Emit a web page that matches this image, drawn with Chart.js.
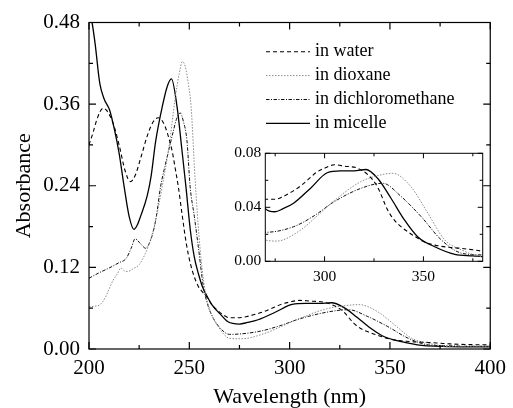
<!DOCTYPE html>
<html>
<head>
<meta charset="utf-8">
<script src="https://cdn.jsdelivr.net/npm/chart.js@4/dist/chart.umd.min.js"></script>
<style>
  html, body { margin: 0; padding: 0; background: #fff; }
  #wrap { position: relative; width: 513px; height: 408px; }
  #main { position: absolute; left: 0; top: 0; }
  #inset { position: absolute; left: 215px; top: 140px; }
</style>
</head>
<body>
<div id="wrap">
  <canvas id="main" width="513" height="408"></canvas>
  <canvas id="inset" width="280" height="150"></canvas>
</div>
<script>
// ---------- data ----------
const seriesLabels = ['in water', 'in dioxane', 'in dichloromethane', 'in micelle'];

const waterX = [200, 202, 204, 207, 209, 212, 215, 218, 220.6, 223, 226, 229, 232, 234.5, 237, 239, 241.5, 243, 244.5, 246.3, 248.5, 250.5, 252.5, 254.5, 256.5, 258.6, 261, 264, 267, 270, 275, 279, 284, 288, 292, 296, 300, 305, 310, 316.6, 322, 326.8, 331.9, 335, 338.7, 343, 347.2, 351, 355.8, 362, 369.3, 375, 380, 390, 400];
const waterY = [0.300, 0.318, 0.338, 0.354, 0.350, 0.332, 0.300, 0.262, 0.246, 0.255, 0.283, 0.313, 0.334, 0.340, 0.333, 0.318, 0.290, 0.265, 0.239, 0.200, 0.155, 0.126, 0.106, 0.092, 0.084, 0.077, 0.066, 0.057, 0.050, 0.046, 0.046, 0.048, 0.052, 0.056, 0.061, 0.066, 0.069, 0.0715, 0.0705, 0.069, 0.064, 0.055, 0.038, 0.031, 0.0256, 0.021, 0.017, 0.014, 0.012, 0.0105, 0.0096, 0.0085, 0.0075, 0.0065, 0.006];

const dioxaneX = [200, 203, 205.4, 208, 210, 212, 214, 216, 217.5, 219.3, 222, 225, 228, 231.6, 234, 236.5, 240, 243, 245, 246.5, 248, 249.5, 250.9, 252.9, 255.3, 257.8, 260.3, 264.4, 270, 275.8, 287.7, 295, 304.7, 318.3, 327, 334.5, 343.8, 352.3, 360.8, 369.3, 380, 390, 400];
const dioxaneY = [0.062, 0.063, 0.065, 0.075, 0.088, 0.101, 0.110, 0.119, 0.115, 0.114, 0.118, 0.124, 0.140, 0.170, 0.200, 0.239, 0.300, 0.370, 0.405, 0.4225, 0.415, 0.390, 0.356, 0.249, 0.150, 0.087, 0.057, 0.033, 0.0158, 0.015, 0.023, 0.032, 0.0447, 0.059, 0.0635, 0.0652, 0.055, 0.0355, 0.0158, 0.0084, 0.0034, 0.003, 0.003];

const dcmX = [200, 205, 210, 215, 218.5, 221, 223, 225, 226.5, 228.3, 230, 231.5, 233.3, 235.7, 237.8, 239.8, 242, 243.5, 245.5, 247, 248.8, 250.4, 252.5, 254.5, 257, 259.5, 262, 265, 270, 284.3, 295, 304.7, 318.3, 329.4, 338.7, 348.9, 359.1, 369.3, 380, 390, 400];
const dcmY = [0.104, 0.112, 0.119, 0.127, 0.133, 0.148, 0.162, 0.157, 0.152, 0.148, 0.155, 0.167, 0.190, 0.239, 0.268, 0.293, 0.320, 0.337, 0.347, 0.335, 0.307, 0.239, 0.195, 0.150, 0.092, 0.062, 0.045, 0.032, 0.0215, 0.0256, 0.034, 0.044, 0.054, 0.0578, 0.048, 0.033, 0.0158, 0.006, 0.0047, 0.004, 0.004];

const micelleX = [200, 201.5, 203, 205.4, 207.5, 210.3, 212.5, 215, 217.5, 220, 222.4, 224, 225.7, 229, 231, 233.2, 236.5, 239, 241.1, 243.9, 246.3, 248.3, 250.5, 252.5, 254.5, 256.5, 258.6, 261.5, 265.2, 269.3, 274.9, 279, 284.3, 292.8, 301.3, 308.1, 314.9, 320.9, 326.8, 333.6, 340.4, 347.2, 355.7, 365.9, 375, 380, 390, 400];
const micelleY = [0.495, 0.480, 0.450, 0.390, 0.368, 0.351, 0.325, 0.288, 0.239, 0.195, 0.176, 0.182, 0.195, 0.225, 0.255, 0.305, 0.356, 0.386, 0.397, 0.356, 0.293, 0.239, 0.175, 0.135, 0.111, 0.092, 0.079, 0.064, 0.052, 0.040, 0.0367, 0.039, 0.043, 0.054, 0.0656, 0.067, 0.067, 0.068, 0.0615, 0.0467, 0.0306, 0.018, 0.0108, 0.0052, 0.004, 0.0034, 0.003, 0.003];

// main axes ticks
const mainXTicks = [200, 250, 300, 350, 400];
const mainXMinor = [225, 275, 325, 375];
const mainYTicks = [0.00, 0.12, 0.24, 0.36, 0.48];
const mainYMinor = [0.06, 0.18, 0.30, 0.42];
// inset axes ticks
const insetXTicks = [300, 350];
const insetXMinor = [275, 325, 375];
const insetYTicks = [0.00, 0.04, 0.08];
const insetYMinor = [0.02, 0.06];

// ---------- styling ----------
const FONT = '"Liberation Serif", "Times New Roman", serif';
const styles = [
  { color: '#000', width: 1.1, dash: [4, 3] },
  { color: '#8a8a8a', width: 1.0, dash: [1.5, 1.5] },
  { color: '#111', width: 1.0, dash: [3.5, 1.5, 1, 1.5] },
  { color: '#000', width: 1.3, dash: [] }
];
const xs = [waterX, dioxaneX, dcmX, micelleX];
const ys = [waterY, dioxaneY, dcmY, micelleY];

function makeDatasets() {
  return seriesLabels.map((lab, i) => ({
    label: lab,
    data: xs[i].map((v, k) => ({ x: v, y: ys[i][k] })),
    borderColor: styles[i].color,
    borderWidth: styles[i].width,
    borderDash: styles[i].dash,
    pointRadius: 0,
    fill: false,
    cubicInterpolationMode: 'monotone'
  }));
}

const frameTicks = {
  id: 'frameTicks',
  afterDatasetsDraw(chart, args, o) {
    const { ctx, chartArea: a } = chart;
    const sx = chart.scales.x, sy = chart.scales.y;
    ctx.save();
    ctx.strokeStyle = '#000';
    ctx.lineWidth = o.lw;
    ctx.setLineDash([]);
    ctx.strokeRect(a.left, a.top, a.right - a.left, a.bottom - a.top);
    ctx.beginPath();
    const xt = (vals, len) => vals.forEach(v => {
      const p = sx.getPixelForValue(v);
      ctx.moveTo(p, a.bottom); ctx.lineTo(p, a.bottom - len);
      ctx.moveTo(p, a.top); ctx.lineTo(p, a.top + len);
    });
    const yt = (vals, len) => vals.forEach(v => {
      const p = sy.getPixelForValue(v);
      ctx.moveTo(a.left, p); ctx.lineTo(a.left + len, p);
      ctx.moveTo(a.right, p); ctx.lineTo(a.right - len, p);
    });
    xt(o.xMajor, o.major); xt(o.xMinor, o.minor);
    yt(o.yMajor, o.major); yt(o.yMinor, o.minor);
    ctx.stroke();
    ctx.restore();
  }
};

const seriesKey = {
  id: 'seriesKey',
  afterDraw(chart, args, o) {
    if (!o.show) return;
    const ctx = chart.ctx;
    ctx.save();
    chart.data.datasets.forEach((ds, i) => {
      const y = o.y0 + i * o.step;
      ctx.beginPath();
      ctx.strokeStyle = ds.borderColor;
      ctx.lineWidth = ds.borderWidth;
      ctx.setLineDash(ds.borderDash || []);
      ctx.moveTo(o.x1, y); ctx.lineTo(o.x2, y);
      ctx.stroke();
      ctx.setLineDash([]);
      ctx.fillStyle = '#000';
      ctx.font = o.size + 'px ' + FONT;
      ctx.textBaseline = 'middle';
      ctx.textAlign = 'left';
      ctx.fillText(ds.label, o.tx, y);
    });
    ctx.restore();
  }
};

// ---------- main chart ----------
new Chart(document.getElementById('main'), {
  type: 'line',
  data: { datasets: makeDatasets() },
  plugins: [frameTicks, seriesKey],
  options: {
    responsive: false,
    animation: false,
    events: [],
    layout: { padding: { left: 0, right: 17, top: 22.5, bottom: 0 } },
    plugins: {
      legend: { display: false },
      tooltip: { enabled: false },
      frameTicks: { lw: 1.2, major: 7, minor: 4, xMajor: mainXTicks, xMinor: mainXMinor, yMajor: mainYTicks, yMinor: mainYMinor },
      seriesKey: { show: true, x1: 266, x2: 310, tx: 315, y0: 51.7, step: 23.9, size: 18 }
    },
    scales: {
      x: {
        type: 'linear', min: 200, max: 400,
        afterFit: s => { s.height = 59; },
        afterBuildTicks: s => { s.ticks = mainXTicks.map(v => ({ value: v })); },
        grid: { display: false, drawTicks: false },
        border: { display: false },
        ticks: { color: '#000', padding: 7, maxRotation: 0, autoSkip: false, font: { family: FONT, size: 21 } },
        title: { display: true, text: 'Wavelength (nm)', color: '#000', padding: { top: 0, bottom: 0 }, font: { family: FONT, size: 22, lineHeight: 1 } }
      },
      y: {
        type: 'linear', min: 0, max: 0.48,
        afterFit: s => { s.width = 89; },
        afterBuildTicks: s => { s.ticks = mainYTicks.map(v => ({ value: v })); },
        grid: { display: false, drawTicks: false },
        border: { display: false },
        ticks: { color: '#000', padding: 9, autoSkip: false, callback: v => Number(v).toFixed(2), font: { family: FONT, size: 21 } },
        title: { display: true, text: 'Absorbance', color: '#000', padding: { top: 13, bottom: 0 }, font: { family: FONT, size: 22, lineHeight: 1 } }
      }
    }
  }
});

// ---------- inset chart ----------
new Chart(document.getElementById('inset'), {
  type: 'line',
  data: { datasets: makeDatasets() },
  plugins: [frameTicks],
  options: {
    responsive: false,
    animation: false,
    events: [],
    layout: { padding: { left: 0, right: 12.3, top: 13.3, bottom: 0 } },
    plugins: {
      legend: { display: false },
      tooltip: { enabled: false },
      frameTicks: { lw: 1, major: 5, minor: 3, xMajor: insetXTicks, xMinor: insetXMinor, yMajor: insetYTicks, yMinor: insetYMinor }
    },
    scales: {
      x: {
        type: 'linear', min: 270, max: 380,
        afterFit: s => { s.height = 28.7; },
        afterBuildTicks: s => { s.ticks = insetXTicks.map(v => ({ value: v })); },
        grid: { display: false, drawTicks: false },
        border: { display: false },
        ticks: { color: '#000', padding: 6, maxRotation: 0, autoSkip: false, font: { family: FONT, size: 15.5 } }
      },
      y: {
        type: 'linear', min: 0, max: 0.08,
        afterFit: s => { s.width = 50.3; },
        afterBuildTicks: s => { s.ticks = insetYTicks.map(v => ({ value: v })); },
        grid: { display: false, drawTicks: false },
        border: { display: false },
        ticks: { color: '#000', padding: 4, autoSkip: false, callback: v => Number(v).toFixed(2), font: { family: FONT, size: 15.5 } }
      }
    }
  }
});
</script>
</body>
</html>
